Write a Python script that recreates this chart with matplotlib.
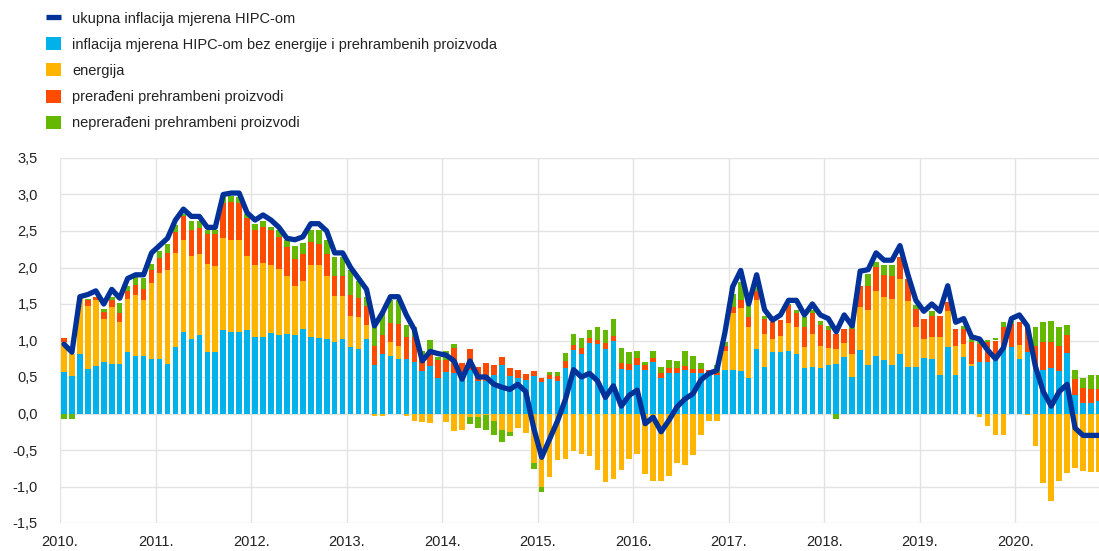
import numpy as np
import matplotlib.pyplot as plt

plt.rcParams['font.family'] = ['Liberation Sans', 'DejaVu Sans']

# monthly data, Jan 2010 - Nov 2020
years = list(range(2010, 2021))
headline = [0.95, 0.84, 1.60, 1.63, 1.68, 1.50, 1.70, 1.58, 1.85, 1.90, 1.90, 2.20,
            2.30, 2.40, 2.65, 2.80, 2.70, 2.70, 2.55, 2.55, 3.00, 3.02, 3.02, 2.75,
            2.65, 2.72, 2.65, 2.55, 2.40, 2.38, 2.42, 2.60, 2.60, 2.50, 2.20, 2.20,
            2.00, 1.85, 1.70, 1.20, 1.38, 1.60, 1.60, 1.35, 1.15, 0.72, 0.85, 0.82,
            0.80, 0.72, 0.47, 0.72, 0.50, 0.50, 0.40, 0.36, 0.33, 0.40, 0.30, -0.20,
            -0.60, -0.35, -0.10, 0.20, 0.60, 0.50, 0.55, 0.45, 0.22, 0.38, 0.10, 0.25,
            0.32, -0.14, -0.05, -0.25, -0.09, 0.09, 0.20, 0.27, 0.46, 0.55, 0.59, 1.10,
            1.74, 1.96, 1.50, 1.90, 1.42, 1.28, 1.35, 1.55, 1.55, 1.35, 1.50, 1.35,
            1.30, 1.12, 1.35, 1.20, 1.95, 1.97, 2.20, 2.10, 2.10, 2.30, 1.90, 1.55,
            1.40, 1.50, 1.40, 1.75, 1.25, 1.30, 1.05, 1.02, 0.87, 0.75, 0.90, 1.30,
            1.35, 1.20, 0.65, 0.30, 0.10, 0.30, 0.40, -0.20, -0.30, -0.30, -0.30]
core = [0.57, 0.52, 0.81, 0.61, 0.65, 0.70, 0.68, 0.68, 0.84, 0.79, 0.79, 0.74,
        0.74, 0.68, 0.91, 1.12, 1.02, 1.07, 0.84, 0.84, 1.14, 1.12, 1.12, 1.14,
        1.05, 1.05, 1.10, 1.08, 1.09, 1.08, 1.16, 1.05, 1.04, 1.02, 0.98, 1.02,
        0.91, 0.89, 1.02, 0.67, 0.82, 0.79, 0.74, 0.75, 0.71, 0.58, 0.65, 0.49,
        0.57, 0.55, 0.47, 0.59, 0.45, 0.45, 0.53, 0.66, 0.51, 0.48, 0.46, 0.51,
        0.43, 0.47, 0.44, 0.63, 0.87, 0.82, 0.96, 0.95, 0.89, 0.99, 0.61, 0.59,
        0.67, 0.59, 0.71, 0.49, 0.55, 0.55, 0.59, 0.55, 0.55, 0.54, 0.53, 0.60,
        0.60, 0.58, 0.49, 0.89, 0.64, 0.84, 0.84, 0.86, 0.81, 0.63, 0.64, 0.63,
        0.67, 0.68, 0.77, 0.50, 0.87, 0.67, 0.79, 0.73, 0.66, 0.82, 0.64, 0.64,
        0.76, 0.75, 0.53, 0.91, 0.53, 0.78, 0.65, 0.70, 0.70, 0.73, 0.90, 0.91,
        0.75, 0.84, 0.61, 0.59, 0.63, 0.58, 0.83, 0.26, 0.15, 0.15, 0.17]
energy = [0.41, 0.29, 0.78, 0.86, 0.90, 0.60, 0.78, 0.58, 0.73, 0.84, 0.77, 1.05,
          1.19, 1.29, 1.29, 1.26, 1.14, 1.11, 1.21, 1.18, 1.26, 1.25, 1.25, 1.02,
          0.98, 1.01, 0.94, 0.90, 0.80, 0.67, 0.66, 0.98, 0.99, 0.87, 0.63, 0.59,
          0.43, 0.43, 0.19, -0.03, -0.03, 0.19, 0.18, -0.03, -0.10, -0.12, -0.13, 0.00,
          -0.12, -0.24, -0.22, -0.05, -0.05, -0.02, -0.10, -0.22, -0.25, -0.20, -0.27, -0.68,
          -1.00, -0.87, -0.64, -0.62, -0.52, -0.55, -0.58, -0.78, -0.94, -0.90, -0.77, -0.63,
          -0.55, -0.83, -0.92, -0.92, -0.85, -0.68, -0.70, -0.57, -0.30, -0.10, -0.10, 0.26,
          0.77, 0.87, 0.69, 0.66, 0.45, 0.18, 0.22, 0.38, 0.38, 0.28, 0.45, 0.29,
          0.23, 0.21, 0.19, 0.31, 0.59, 0.75, 0.89, 0.86, 0.91, 1.02, 0.90, 0.54,
          0.26, 0.30, 0.52, 0.50, 0.39, 0.17, 0.03, -0.05, -0.17, -0.30, -0.30, 0.00,
          0.19, -0.02, -0.45, -0.95, -1.20, -0.92, -0.82, -0.75, -0.79, -0.80, -0.80]
processed = [0.05, 0.00, 0.01, 0.08, 0.05, 0.09, 0.09, 0.11, 0.11, 0.13, 0.15, 0.17,
             0.20, 0.23, 0.28, 0.32, 0.36, 0.36, 0.41, 0.44, 0.48, 0.53, 0.51, 0.52,
             0.48, 0.50, 0.47, 0.44, 0.39, 0.37, 0.37, 0.32, 0.29, 0.30, 0.28, 0.28,
             0.29, 0.26, 0.26, 0.25, 0.25, 0.26, 0.30, 0.30, 0.34, 0.18, 0.20, 0.24,
             0.16, 0.35, 0.22, 0.29, 0.19, 0.24, 0.14, 0.11, 0.12, 0.11, 0.08, 0.07,
             0.05, 0.06, 0.07, 0.09, 0.07, 0.08, 0.07, 0.06, 0.07, 0.07, 0.08, 0.09,
             0.09, 0.07, 0.05, 0.07, 0.07, 0.07, 0.06, 0.06, 0.06, 0.05, 0.03, 0.07,
             0.09, 0.10, 0.14, 0.13, 0.21, 0.24, 0.22, 0.24, 0.18, 0.27, 0.28, 0.29,
             0.24, 0.20, 0.20, 0.35, 0.29, 0.33, 0.32, 0.31, 0.32, 0.30, 0.30, 0.25,
             0.28, 0.29, 0.29, 0.12, 0.24, 0.21, 0.30, 0.25, 0.28, 0.27, 0.29, 0.32,
             0.31, 0.34, 0.32, 0.39, 0.35, 0.34, 0.24, 0.21, 0.20, 0.19, 0.17]
unprocessed = [-0.07, -0.07, 0.00, 0.02, 0.00, 0.04, 0.04, 0.15, 0.07, 0.11, 0.15, 0.09,
               0.10, 0.12, 0.10, 0.03, 0.12, 0.10, 0.05, 0.05, 0.09, 0.08, 0.08, 0.05,
               0.08, 0.08, 0.05, 0.09, 0.09, 0.18, 0.14, 0.16, 0.19, 0.18, 0.25, 0.25,
               0.33, 0.24, 0.12, 0.26, 0.30, 0.31, 0.33, 0.16, 0.14, 0.10, 0.15, 0.05,
               0.12, 0.05, 0.00, -0.10, -0.15, -0.20, -0.20, -0.17, -0.06, 0.00, 0.00, -0.08,
               -0.07, 0.04, 0.06, 0.11, 0.15, 0.14, 0.11, 0.18, 0.19, 0.23, 0.21, 0.16,
               0.10, 0.05, 0.10, 0.08, 0.11, 0.10, 0.21, 0.18, 0.08, 0.00, 0.10, 0.05,
               0.18, 0.25, 0.19, 0.10, 0.04, 0.00, 0.00, 0.02, 0.05, 0.14, 0.05, 0.06,
               0.06, -0.07, 0.00, 0.04, 0.00, 0.16, 0.07, 0.13, 0.14, 0.00, 0.00, 0.05,
               0.00, 0.07, 0.00, 0.00, 0.00, 0.04, 0.07, 0.05, 0.03, 0.03, 0.07, 0.04,
               0.00, 0.00, 0.25, 0.28, 0.29, 0.26, 0.14, 0.12, 0.13, 0.19, 0.19]

labels = ['ukupna inflacija mjerena HIPC-om',
          'inflacija mjerena HIPC-om bez energije i prehrambenih proizvoda',
          'energija',
          'prerađeni prehrambeni proizvodi',
          'neprerađeni prehrambeni proizvodi']
bar_colors = ['#00B1EA', '#FFB400', '#FF4B00', '#65B800']
line_color = '#003299'

n = len(headline)
x = np.arange(n) + 0.5

fig = plt.figure(figsize=(10.99, 5.51), dpi=100)
ax = fig.add_axes([60 / 1099, 28 / 551, 1 - 60 / 1099, 365 / 551])

pos = np.zeros(n)
neg = np.zeros(n)
bar_handles = []
for vals, col, lab in zip([core, energy, processed, unprocessed], bar_colors, labels[1:]):
    v = np.array(vals)
    bottom = np.where(v >= 0, pos, neg)
    h = ax.bar(x, v, 0.7, bottom=bottom, color=col, linewidth=0, label=lab, zorder=2)
    bar_handles.append(h)
    pos += np.clip(v, 0, None)
    neg += np.clip(v, None, 0)

line, = ax.plot(x, headline, color=line_color, lw=3.8, solid_joinstyle='round',
                solid_capstyle='round', label=labels[0], zorder=5)

ax.set_xlim(0, 130.5)
ax.set_ylim(-1.5, 3.5)
ax.set_xticks([12 * k for k in range(len(years))])
ax.set_xticklabels([f'{y}.' for y in years])
yt = np.arange(-1.5, 3.51, 0.5)
ax.set_yticks(yt)
ax.set_yticklabels([f'{v:.1f}'.replace('.', ',') for v in yt])
ax.tick_params(length=0, labelsize=10.5, colors='#222222')
ax.tick_params(axis='x', pad=9)
ax.tick_params(axis='y', pad=16)
ax.set_axisbelow(True)
ax.grid(color='#e3e3e3', lw=1, zorder=0)
for s in ax.spines.values():
    s.set_visible(False)

leg = fig.legend([line] + bar_handles, labels, loc='upper left',
                 bbox_to_anchor=(46 / 1099, 1 - 11 / 551), frameon=False,
                 fontsize=10.5, handlelength=1.0, handleheight=1.0,
                 handletextpad=0.8, labelspacing=0.8, borderpad=0, borderaxespad=0)
leg.get_lines()[0].set_solid_capstyle('butt')
for t in leg.get_texts():
    t.set_color('#222222')

fig.savefig('out.png', dpi=100)
